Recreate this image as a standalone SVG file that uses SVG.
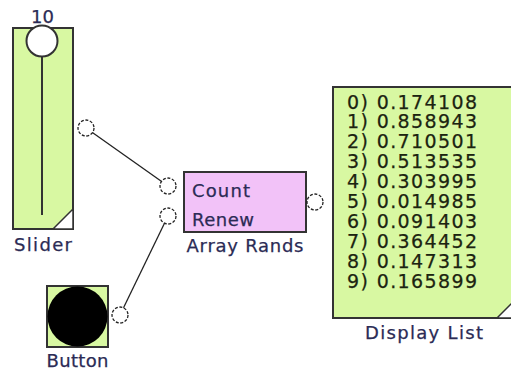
<svg xmlns="http://www.w3.org/2000/svg" width="511" height="375" viewBox="0 0 511 375">
<style>
.box{stroke:#333;stroke-width:2}
.green{fill:#d8f8a2}
.pink{fill:#f2c2f8}
.port{fill:#fff;stroke:#222;stroke-width:1.3;stroke-dasharray:3 1.6}
.lbl{font-family:"DejaVu Sans",Verdana,sans-serif;font-size:18px;fill:#2b2b55;stroke:#2b2b55;stroke-width:0.25}
.lst{font-family:"DejaVu Sans",Verdana,sans-serif;font-size:19px;fill:#1c2410;stroke:#1c2410;stroke-width:0.25}
.wire{stroke:#222;stroke-width:1.3;fill:none}
</style>
<rect width="511" height="375" fill="#fff"/>
<g id="connectors">
<line class="wire" x1="86" y1="128" x2="168" y2="186"/>
<line class="wire" x1="120" y1="315" x2="168" y2="216"/>
</g>
<g id="slider">
<rect class="box green" x="13" y="28" width="60" height="201"/>
<path d="M53 229 L73 209 L73 229 Z" fill="#fff" stroke="#333" stroke-width="1.5"/>
<line x1="42" y1="56" x2="42" y2="215" stroke="#333" stroke-width="2"/>
<circle cx="42" cy="41" r="15.5" fill="#fff" stroke="#333" stroke-width="2"/>
<text class="lbl" x="42.5" y="23" text-anchor="middle" font-size="16">10</text>
<text class="lbl" x="43" y="251" text-anchor="middle" textLength="58" lengthAdjust="spacing">Slider</text>
<circle class="port" cx="86" cy="128" r="8"/>
</g>
<g id="array-rands">
<rect class="box pink" x="184" y="172" width="122" height="60"/>
<text class="lbl" x="192" y="197" textLength="58" lengthAdjust="spacing">Count</text>
<text class="lbl" x="192" y="226" textLength="62" lengthAdjust="spacing">Renew</text>
<text class="lbl" x="245" y="252" text-anchor="middle" textLength="117" lengthAdjust="spacing">Array Rands</text>
<circle class="port" cx="168" cy="186" r="8"/>
<circle class="port" cx="168" cy="216" r="8"/>
<circle class="port" cx="315" cy="202" r="8"/>
</g>
<g id="button">
<rect class="box green" x="47" y="286" width="61" height="61"/>
<circle cx="77.5" cy="316.5" r="30" fill="#000"/>
<text class="lbl" x="77.5" y="367" text-anchor="middle" textLength="62" lengthAdjust="spacing">Button</text>
<circle class="port" cx="120" cy="315" r="8"/>
</g>
<g id="display-list">
<rect class="box green" x="333" y="87" width="182" height="231"/>
<path d="M497 318 L515 300 L515 318 Z" fill="#fff" stroke="#333" stroke-width="1.5"/>
<g class="lst">
<text x="347" y="108.5" textLength="130" lengthAdjust="spacing">0) 0.174108</text>
<text x="347" y="128.4" textLength="130" lengthAdjust="spacing">1) 0.858943</text>
<text x="347" y="148.3" textLength="130" lengthAdjust="spacing">2) 0.710501</text>
<text x="347" y="168.2" textLength="130" lengthAdjust="spacing">3) 0.513535</text>
<text x="347" y="188.1" textLength="130" lengthAdjust="spacing">4) 0.303995</text>
<text x="347" y="208" textLength="130" lengthAdjust="spacing">5) 0.014985</text>
<text x="347" y="227.9" textLength="130" lengthAdjust="spacing">6) 0.091403</text>
<text x="347" y="247.8" textLength="130" lengthAdjust="spacing">7) 0.364452</text>
<text x="347" y="267.7" textLength="130" lengthAdjust="spacing">8) 0.147313</text>
<text x="347" y="287.6" textLength="130" lengthAdjust="spacing">9) 0.165899</text>
</g>
<text class="lbl" x="424" y="339" text-anchor="middle" textLength="118" lengthAdjust="spacing">Display List</text>
</g>
</svg>
